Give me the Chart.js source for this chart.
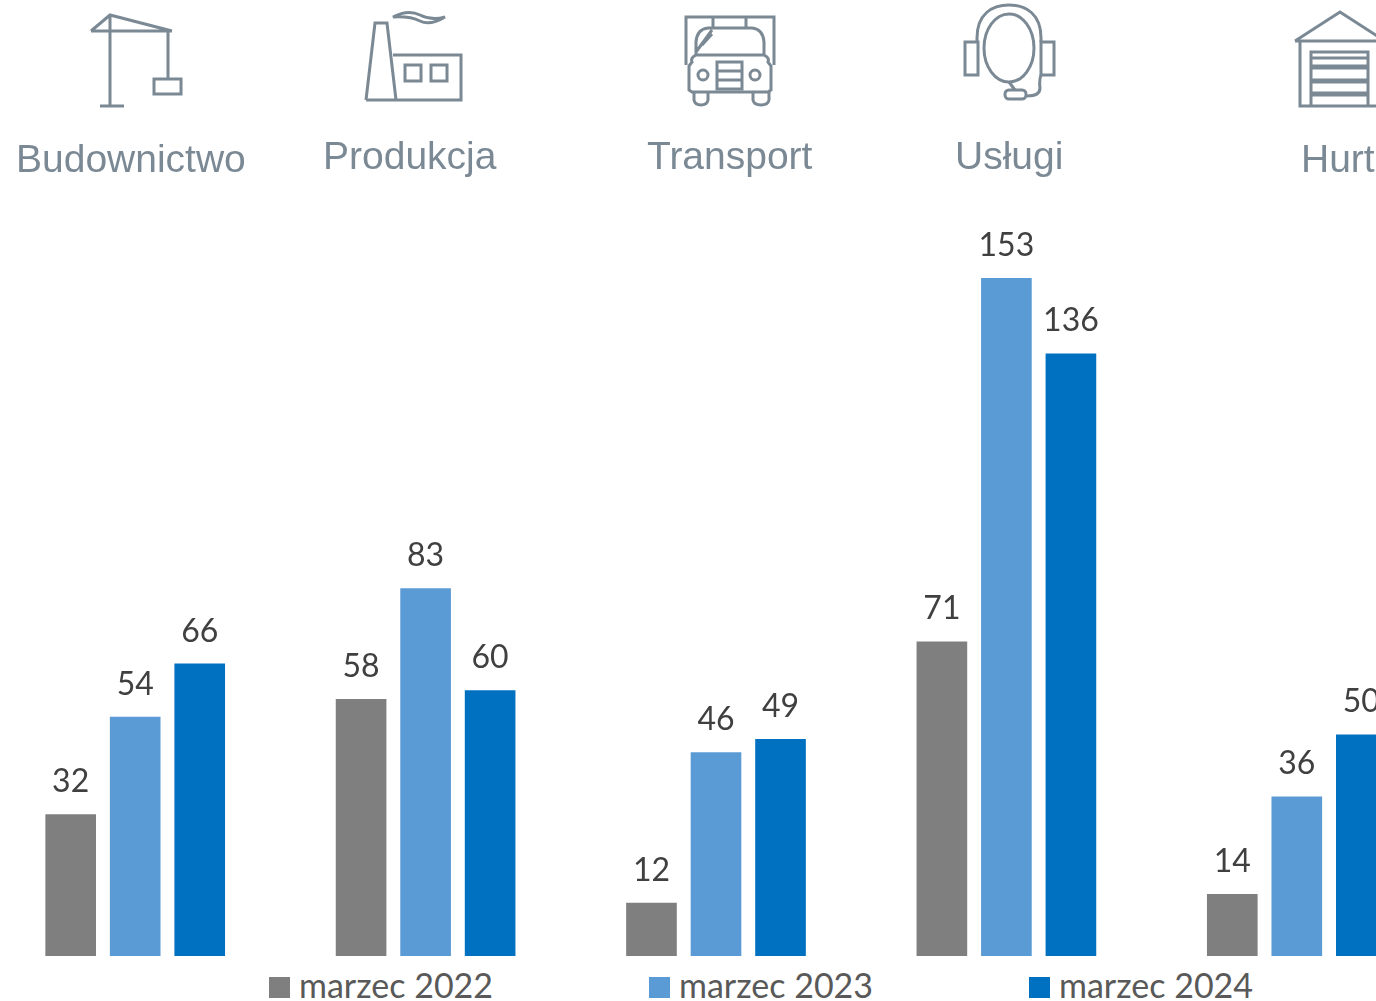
<!DOCTYPE html>
<html lang="pl">
<head>
<meta charset="utf-8">
<title>Budownictwo, Produkcja, Transport, Usługi, Hurt</title>
<script src="https://cdn.jsdelivr.net/npm/chart.js"></script>
<style>
    html, body { margin: 0; background: #fff; }
    #page { position: relative; width: 1376px; height: 1001px; overflow: hidden; }
    #barChart { position: absolute; left: -10px; top: 0; }
    #icons { position: absolute; left: 0; top: 0; filter: blur(0.7px); }
    #icons * { fill: none; stroke: #7b8995; stroke-width: 3; }
    .cat-label {
        position: absolute; font: 39px "Liberation Sans", Arial, sans-serif; color: #7b8995;
        line-height: 44px; white-space: nowrap; filter: blur(0.6px);
    }
    .legend-box { position: absolute; top: 977px; width: 21px; height: 21px; }
    .legend-text {
        position: absolute; top: 963px; font: 34px Lato, sans-serif; color: #595959;
        line-height: 44px; white-space: nowrap;
    }
</style>
</head>
<body>
<div id="page">
    <canvas id="barChart" width="1452" height="956"></canvas>

    <svg id="icons" width="1376" height="130">
        <!-- crane -->
        <path d="M110 15V106M100 106H124M91 31H172M91 31L110 15L172 31M168 31V78"/>
        <rect x="154" y="79" width="27" height="15"/>
        <!-- factory -->
        <path d="M366 100L375 23H387L396 100M366 100H461V55H393"/>
        <rect x="405" y="65" width="16" height="16"/>
        <rect x="431" y="65" width="16" height="16"/>
        <path d="M393 17Q408 9 420 15T445 17Q430 26 420 21T393 17Z"/>
        <!-- truck -->
        <path d="M686 65V17H774V65M713 17V28M746 17V28"/>
        <path d="M696 55V42Q697 29 708 28H752Q763 29 764 42V55M696 52L712 30M702 45L712 34"/>
        <path d="M692 62Q690 58 696 55H764Q770 58 768 62L771 66V90L768 92H692L689 90V66Z"/>
        <rect x="717" y="62" width="25" height="27"/>
        <path d="M717 71H742M717 80H742"/>
        <circle cx="703" cy="75" r="5"/>
        <circle cx="755" cy="75" r="5"/>
        <path d="M694 92V100Q695 105 701 105Q707 105 708 100V92M753 92V100Q754 105 761 105Q768 105 769 100V92"/>
        <!-- headset -->
        <ellipse cx="1009" cy="48" rx="25" ry="34"/>
        <path d="M977 42V38C977 14 992 5 1009 5C1026 5 1041 14 1041 38V42"/>
        <rect x="965" y="42" width="13" height="33"/>
        <rect x="1041" y="42" width="13" height="33"/>
        <path d="M1041 75Q1039 80 1040 88Q1040 96 1027 96M1009 82L1015 90"/>
        <rect x="1005" y="90" width="21" height="9" rx="4"/>
        <!-- warehouse -->
        <path d="M1295 41L1340 12L1385 41M1295 41H1385M1300 41V106H1380V41"/>
        <path d="M1311 106V52H1368V106M1311 58H1368"/>
        <path d="M1311 67H1368M1311 81H1368M1311 94H1368" style="stroke-width:5"/>
    </svg>
</div>

<script>
const categories = ['Budownictwo', 'Produkcja', 'Transport', 'Usługi', 'Hurt'];
const seriesNames = ['marzec 2022', 'marzec 2023', 'marzec 2024'];
const values2022 = [32, 58, 12, 71, 14];
const values2023 = [54, 83, 46, 153, 36];
const values2024 = [66, 60, 49, 136, 50];
const seriesColors = ['#7f7f7f', '#5b9bd5', '#0070c0'];

const yMax = 215.75;
const labelLeft = [16, 323, 647, 955, 1301];
const labelTop = [137, 134, 134, 134, 137];
const legendLeft = [269, 649, 1029];

const page = document.getElementById('page');

// header captions
categories.forEach((name, i) => {
    const el = document.createElement('div');
    el.className = 'cat-label';
    el.textContent = name;
    el.style.left = labelLeft[i] + 'px';
    el.style.top = labelTop[i] + 'px';
    page.appendChild(el);
});

// legend sits off centre in the original, so it is placed by hand
seriesNames.forEach((name, i) => {
    const box = document.createElement('div');
    box.className = 'legend-box';
    box.style.left = legendLeft[i] + 'px';
    box.style.background = seriesColors[i];
    page.appendChild(box);

    const text = document.createElement('div');
    text.className = 'legend-text';
    text.textContent = name;
    text.style.left = (legendLeft[i] + 30) + 'px';
    page.appendChild(text);
});

const valueLabels = {
    id: 'valueLabels',
    afterDatasetsDraw(chart) {
        const ctx = chart.ctx;
        ctx.save();
        ctx.font = '32px Lato, sans-serif';
        ctx.fillStyle = '#404040';
        ctx.textAlign = 'center';
        ctx.textBaseline = 'alphabetic';
        chart.data.datasets.forEach((ds, d) => {
            chart.getDatasetMeta(d).data.forEach((bar, i) => {
                ctx.fillText(ds.data[i], bar.x, bar.y - 22);
            });
        });
        ctx.restore();
    }
};

new Chart(document.getElementById('barChart'), {
    type: 'bar',
    data: {
        labels: categories,
        datasets: [values2022, values2023, values2024].map((vals, i) => ({
            label: seriesNames[i],
            data: vals,
            backgroundColor: seriesColors[i],
            categoryPercentage: 0.6665,
            barPercentage: 0.785
        }))
    },
    options: {
        responsive: false,
        animation: false,
        layout: { padding: 0 },
        plugins: { legend: { display: false }, tooltip: { enabled: false } },
        scales: {
            x: { display: false },
            y: { display: false, min: 0, max: yMax }
        }
    },
    plugins: [valueLabels]
});
</script>
</body>
</html>
